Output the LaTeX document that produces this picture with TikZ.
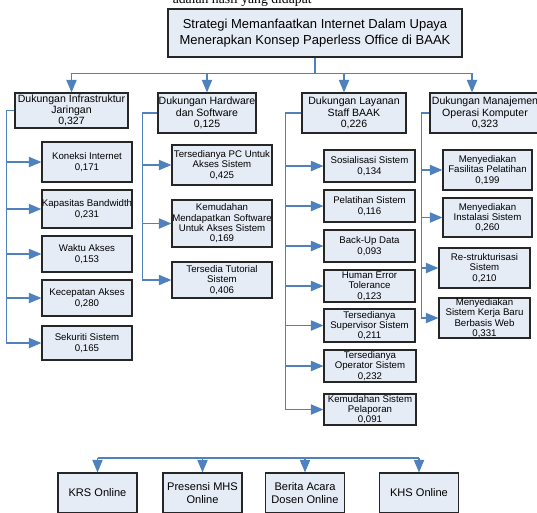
\documentclass[tikz,border=0pt]{standalone}
\usepackage{fontspec}
\setmainfont{Liberation Sans}
\newfontfamily\pageserif{Liberation Serif}
\usetikzlibrary{arrows}
\definecolor{boxfill}{HTML}{E6ECF6}
\definecolor{linkblue}{HTML}{4F81BD}

\begin{document}
\begin{tikzpicture}[
	x=0.02cm, y=-0.02cm, >=triangle 45,
	box/.style={draw=black!85, fill=boxfill, line width=0.75pt, inner sep=0pt, align=center},
	rootbox/.style={box, font=\fontsize{7.4}{9}\selectfont},
	mainbox/.style={box, font=\fontsize{6}{6.4}\selectfont},
	subbox/.style={box, font=\fontsize{5.5}{5.9}\selectfont},
	onlinebox/.style={box, font=\fontsize{6.3}{7}\selectfont, minimum width=1.58cm, minimum height=0.8cm},
	link/.style={draw=linkblue, line width=0.6pt, ->}
	]
	\clip (0,0) rectangle (537,512);
	\node [anchor=base east, inner sep=0pt, font=\pageserif\fontsize{7.8}{9}\selectfont] (pagetext) at (312,3) {adalah hasil yang didapat};

	% top
	\node [rootbox, minimum width=5.88cm, minimum height=0.96cm] (root) at (315,33) {Strategi Memanfaatkan Internet Dalam Upaya\\Menerapkan Konsep Paperless Office di BAAK};

	% criteria
	\node [mainbox, minimum width=2.26cm, minimum height=0.7cm] (infra) at (71.5,110.5) {Dukungan Infrastruktur\\Jaringan\\0,327};
	\node [mainbox, minimum width=1.96cm, minimum height=0.8cm] (hardware) at (207,113) {Dukungan Hardware\\dan Software\\0,125};
	\node [mainbox, minimum width=2.08cm, minimum height=0.8cm] (layanan) at (354,113) {Dukungan Layanan\\Staff BAAK\\0,226};
	\node [mainbox, minimum width=2.2cm, minimum height=0.8cm] (manajemen) at (485,113) {Dukungan Manajemen\\Operasi Komputer\\0,323};

	\coordinate (dropC) at (344,73);
	\coordinate (dropD) at (472,73);
	\draw [link] (root.south) -- ++(0,16) -| (infra.north);
	\draw [link] (root.south) -- ++(0,16) -| (hardware.north);
	\draw [link,-] (root.south) -- ++(0,16) -| (dropD);
	\draw [link] (dropC) -- (dropC |- layanan.north);
	\draw [link] (dropD) -- (dropD |- manajemen.north);

	% infrastruktur
	\node [subbox, minimum width=1.8cm, minimum height=0.8cm] (koneksi) at (87,162) {Koneksi Internet\\0,171};
	\node [subbox, minimum width=1.8cm, minimum height=0.76cm] (bandwidth) at (87,209) {Kapasitas Bandwidth\\0,231};
	\node [subbox, minimum width=1.8cm, minimum height=0.72cm] (waktu) at (87,254) {Waktu Akses\\0,153};
	\node [subbox, minimum width=1.8cm, minimum height=0.72cm] (kecepatan) at (87,298) {Kecepatan Akses\\0,280};
	\node [subbox, minimum width=1.8cm, minimum height=0.68cm] (sekuriti) at (87,343) {Sekuriti Sistem\\0,165};
	\foreach \n in {koneksi,bandwidth,waktu,kecepatan,sekuriti}
		\draw [link] (infra.west) -- ++(-8,0) |- (\n.west);

	% hardware
	\node [subbox, minimum width=2cm, minimum height=0.8cm] (pc) at (222,165) {Tersedianya PC Untuk\\Akses Sistem\\0,425};
	\node [subbox, minimum width=2cm, minimum height=0.94cm] (software) at (222,223.5) {Kemudahan\\Mendapatkan Software\\Untuk Akses Sistem\\0,169};
	\node [subbox, minimum width=2cm, minimum height=0.72cm] (tutorial) at (222,280) {Tersedia Tutorial\\Sistem\\0,406};
	\foreach \n in {pc,software,tutorial}
		\draw [link] (hardware.west) -- ++(-15,0) |- (\n.west);

	% layanan
	\node [subbox, minimum width=1.82cm, minimum height=0.64cm] (sosialisasi) at (369.5,166) {Sosialisasi Sistem\\0,134};
	\node [subbox, minimum width=1.82cm, minimum height=0.64cm] (pelatihan) at (369.5,206) {Pelatihan Sistem\\0,116};
	\node [subbox, minimum width=1.82cm, minimum height=0.64cm] (backup) at (369.5,246) {Back-Up Data\\0,093};
	\node [subbox, minimum width=1.82cm, minimum height=0.64cm] (human) at (369.5,286) {Human Error\\Tolerance\\0,123};
	\node [subbox, minimum width=1.82cm, minimum height=0.66cm] (supervisor) at (369.5,325.5) {Tersedianya\\Supervisor Sistem\\0,211};
	\node [subbox, minimum width=1.84cm, minimum height=0.64cm] (operator) at (370,366) {Tersedianya\\Operator Sistem\\0,232};
	\node [subbox, minimum width=1.84cm, minimum height=0.62cm] (pelaporan) at (370,409.5) {Kemudahan Sistem\\Pelaporan\\0,091};
	\foreach \n in {sosialisasi,pelatihan,backup,human,supervisor,operator,pelaporan}
		\draw [link] (layanan.west) -- ++(-16,0) |- (\n.west);

	% manajemen
	\node [subbox, minimum width=1.78cm, minimum height=0.8cm] (fasilitas) at (487.5,170) {Menyediakan\\Fasilitas Pelatihan\\0,199};
	\node [subbox, minimum width=1.78cm, minimum height=0.78cm] (instalasi) at (487.5,217.5) {Menyediakan\\Instalasi Sistem\\0,260};
	\node [subbox, minimum width=1.82cm, minimum height=0.8cm] (restruk) at (484.5,268) {Re-strukturisasi\\Sistem\\0,210};
	\node [subbox, minimum width=1.82cm, minimum height=0.8cm] (web) at (484.5,318) {Menyediakan\\Sistem Kerja Baru\\Berbasis Web\\0,331};
	\foreach \n in {fasilitas,instalasi,restruk,web}
		\draw [link] (manajemen.west) -- ++(-8,0) |- (\n.west);

	% online services
	\node [onlinebox] (krs) at (97.5,493) {KRS Online};
	\node [onlinebox] (presensi) at (202.5,493) {Presensi MHS\\Online};
	\node [onlinebox] (berita) at (305,493) {Berita Acara\\Dosen Online};
	\node [onlinebox] (khs) at (419,493) {KHS Online};
	\coordinate (busL) at (97.5,458);
	\coordinate (busR) at (419,458);
	\draw [link,-] (busL) -- (busR);
	\foreach \n in {krs,presensi,berita,khs}
		\draw [link] (\n.north |- busL) -- (\n.north);
\end{tikzpicture}
\end{document}
